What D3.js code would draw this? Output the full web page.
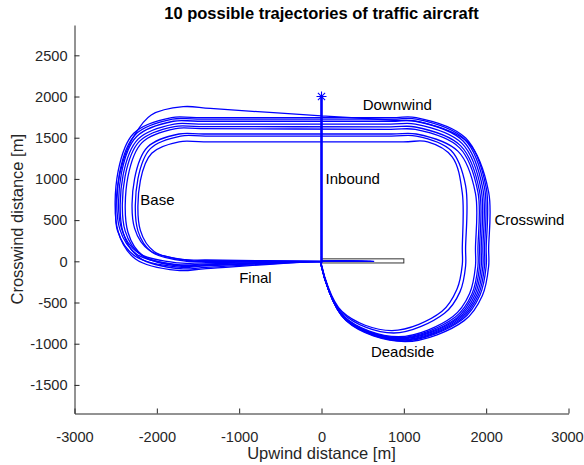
<!DOCTYPE html>
<html>
<head>
<meta charset="utf-8">
<script src="https://cdn.jsdelivr.net/npm/d3@7"></script>
<style>
  html, body { margin: 0; padding: 0; background: #fff; }
  svg { display: block; font-family: "Liberation Sans", Arial, Helvetica, sans-serif; }
</style>
</head>
<body>
<svg id="chart" width="584" height="465"></svg>
<script>
// Waypoints [upwind m, crosswind m] of each traffic aircraft trajectory:
// inbound from the start point, deadside turn, crosswind, downwind, base, final, rollout.
const traj01 = [[0,2000],[0,0],[0,-60],[297,-720],[1015,-975],[1733,-720],[1953,-418],[2030,-60],[2030,150],[2030,840],[1781,1441],[1180,1695],[880,1712],[0,1765],[-1350,1855],[-1680,1877],[-2068,1776],[-2271,1533],[-2412,1208],[-2480,880],[-2480,380],[-2263,62],[-1740,-70],[-1400,-56],[0,0],[640,0]];
const traj02 = [[0,2000],[0,0],[0,-60],[293,-710],[1000,-965],[1707,-710],[1924,-412],[2000,-60],[2000,150],[2000,895],[1751,1496],[1150,1745],[850,1745],[-1520,1745],[-1820,1745],[-2280,1555],[-2470,1095],[-2470,360],[-2259,28],[-1750,-110],[-1400,-88],[0,0],[560,0]];
const traj03 = [[0,2000],[0,0],[0,-60],[290,-705],[990,-955],[1690,-705],[1905,-409],[1980,-60],[1980,150],[1980,895],[1737,1482],[1150,1725],[850,1725],[-1510,1725],[-1810,1725],[-2262,1537],[-2450,1085],[-2450,390],[-2245,86],[-1750,-40],[-1400,-32],[0,0],[500,0]];
const traj04 = [[0,2000],[0,0],[0,-60],[287,-700],[980,-950],[1673,-700],[1886,-405],[1960,-60],[1960,150],[1960,880],[1720,1460],[1140,1700],[840,1700],[-1500,1700],[-1800,1700],[-2245,1515],[-2430,1070],[-2430,400],[-2228,103],[-1740,-20],[-1400,-16],[0,0],[450,0]];
const traj05 = [[0,2000],[0,0],[0,-60],[284,-695],[970,-940],[1656,-695],[1866,-402],[1940,-60],[1940,150],[1940,865],[1706,1431],[1140,1665],[840,1665],[-1490,1665],[-1790,1665],[-2228,1483],[-2410,1045],[-2410,350],[-2205,39],[-1710,-90],[-1400,-74],[0,0],[400,0]];
const traj06 = [[0,2000],[0,0],[0,-60],[281,-690],[960,-930],[1639,-690],[1847,-398],[1920,-60],[1920,150],[1920,850],[1691,1401],[1140,1630],[840,1631],[-1485,1635],[-1785,1635],[-2209,1459],[-2385,1035],[-2385,370],[-2186,73],[-1705,-50],[-1400,-41],[0,0],[350,0]];
const traj07 = [[0,2000],[0,0],[0,-60],[278,-680],[950,-925],[1622,-680],[1828,-395],[1900,-60],[1900,150],[1900,840],[1677,1377],[1140,1600],[840,1601],[-1470,1610],[-1770,1610],[-2180,1440],[-2350,1030],[-2350,350],[-2160,60],[-1700,-60],[-1400,-49],[0,0],[620,0]];
const traj08 = [[0,2000],[0,0],[0,-60],[274,-670],[935,-915],[1596,-670],[1799,-390],[1870,-60],[1870,150],[1870,825],[1659,1334],[1150,1545],[850,1545],[-1430,1545],[-1730,1545],[-2112,1387],[-2270,1005],[-2270,400],[-2088,131],[-1650,20],[-1400,17],[0,0],[300,0]];
const traj09 = [[0,2000],[0,0],[0,-60],[256,-630],[875,-870],[1494,-630],[1683,-368],[1750,-60],[1750,150],[1750,920],[1574,1344],[1150,1520],[850,1520],[-1410,1520],[-1710,1520],[-2078,1368],[-2230,1000],[-2230,370],[-2054,108],[-1630,0],[-1400,0],[0,0],[520,0]];
const traj10 = [[0,2000],[0,0],[0,-40],[250,-610],[855,-840],[1460,-610],[1645,-340],[1710,-40],[1710,150],[1710,830],[1587,1268],[1290,1450],[990,1450],[-1430,1450],[-1730,1450],[-2062,1312],[-2200,980],[-2200,375],[-2030,117],[-1620,10],[-1400,9],[0,0],[600,0]];
const trajectories = [traj01, traj02, traj03, traj04, traj05, traj06, traj07, traj08, traj09, traj10];

// Start point of all aircraft
const startPoint = [0, 2000];

// Runway outline (upwind and crosswind extent, m)
const runwayX = [0, 1000];
const runwayY = [-20, 30];

// Leg names and where they are written
const legNames = ["Downwind", "Inbound", "Base", "Crosswind", "Final", "Deadside"];
const legX = [500, 50, -2200, 2100, -1000, 600];
const legY = [1900, 1000, 750, 500, -200, -1100];

// Axis ticks
const xTicks = [-3000, -2000, -1000, 0, 1000, 2000, 3000];
const yTicks = [-1500, -1000, -500, 0, 500, 1000, 1500, 2000, 2500];

const titleText = "10 possible trajectories of traffic aircraft";
const xLabelText = "Upwind distance [m]";
const yLabelText = "Crosswind distance [m]";

const axisColor = "#262626";
const lineColor = "#0000ff";

const svg = d3.select("#chart");
const box = { left: 74.5, right: 568.5, top: 25, bottom: 413.5 };

const x = d3.scaleLinear().domain([-3000, 3000]).range([box.left, box.right]);
const y = d3.scaleLinear().domain([-1847, 2868]).range([box.bottom, box.top]);

// Runway
svg.append("rect")
  .attr("x", x(runwayX[0]))
  .attr("y", y(runwayY[1]))
  .attr("width", x(runwayX[1]) - x(runwayX[0]))
  .attr("height", y(runwayY[0]) - y(runwayY[1]))
  .attr("fill", "#fff")
  .attr("stroke", "#333")
  .attr("stroke-width", 1);

// Trajectories
const line = d3.line()
  .x(d => x(d[0]))
  .y(d => y(d[1]))
  .curve(d3.curveCatmullRom.alpha(0.5));

svg.append("g")
  .selectAll("path")
  .data(trajectories)
  .join("path")
  .attr("d", line)
  .attr("fill", "none")
  .attr("stroke", lineColor)
  .attr("stroke-width", 1.3)
  .attr("stroke-linejoin", "round");

// Start marker (asterisk)
const sx = x(startPoint[0]), sy = y(startPoint[1]);
const m = 5, md = 3.6;
svg.append("path")
  .attr("d", `M${sx - m},${sy}H${sx + m}M${sx},${sy - m}V${sy + m}` +
             `M${sx - md},${sy - md}L${sx + md},${sy + md}M${sx - md},${sy + md}L${sx + md},${sy - md}`)
  .attr("stroke", lineColor)
  .attr("stroke-width", 1.1)
  .attr("fill", "none");

// Leg annotations
svg.append("g")
  .selectAll("text")
  .data(legNames)
  .join("text")
  .attr("x", (d, i) => x(legX[i]))
  .attr("y", (d, i) => y(legY[i]))
  .attr("dy", "0.35em")
  .attr("font-size", 15)
  .attr("fill", "#000")
  .text(d => d);

// Axes
const xAxis = d3.axisBottom(x).tickValues(xTicks).tickFormat(d => String(d))
  .tickSizeInner(-5).tickSizeOuter(0).tickPadding(18);
const yAxis = d3.axisLeft(y).tickValues(yTicks).tickFormat(d => String(d))
  .tickSizeInner(-5).tickSizeOuter(0).tickPadding(7);

const gx = svg.append("g").attr("transform", `translate(0,${box.bottom})`).call(xAxis);
const gy = svg.append("g").attr("transform", `translate(${box.left},0)`).call(yAxis);

[gx, gy].forEach(g => {
  g.select(".domain").attr("stroke", axisColor).attr("stroke-width", 1);
  g.selectAll(".tick line").attr("stroke", axisColor).attr("stroke-width", 1);
  g.selectAll(".tick text").attr("fill", axisColor).attr("font-size", 14.6)
    .attr("font-family", '"Liberation Sans", Arial, Helvetica, sans-serif');
});
// keep the rightmost x label inside the canvas
gx.selectAll(".tick text").filter(d => d === xTicks[xTicks.length - 1]).attr("x", -1.5);

// Title and axis labels
svg.append("text")
  .attr("x", (box.left + box.right) / 2)
  .attr("y", 19)
  .attr("text-anchor", "middle")
  .attr("font-size", 16.5)
  .attr("font-weight", "bold")
  .attr("fill", "#000")
  .text(titleText);

svg.append("text")
  .attr("x", (box.left + box.right) / 2)
  .attr("y", 453)
  .attr("dy", "0.35em")
  .attr("text-anchor", "middle")
  .attr("font-size", 16.5)
  .attr("fill", axisColor)
  .text(xLabelText);

svg.append("text")
  .attr("transform", `translate(17,${(box.top + box.bottom) / 2}) rotate(-90)`)
  .attr("dy", "0.35em")
  .attr("text-anchor", "middle")
  .attr("font-size", 16.5)
  .attr("fill", axisColor)
  .text(yLabelText);
</script>
</body>
</html>
